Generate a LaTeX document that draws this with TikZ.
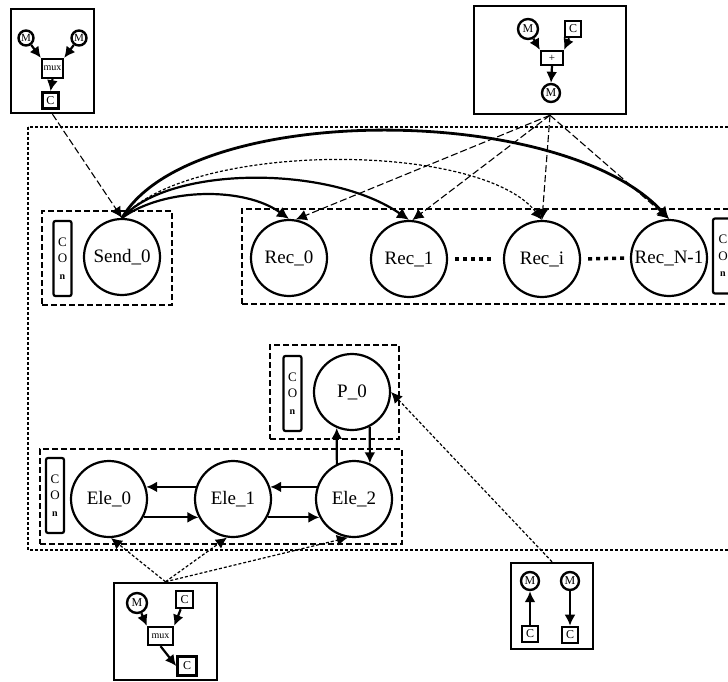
\documentclass[tikz,border=0pt]{standalone}
\usepackage{fontspec}
\setmainfont{Liberation Serif}
\usetikzlibrary{arrows.meta}
\tikzset{
  x=1pt,y=-1pt,
  big/.style={circle,draw,line width=2.2pt,minimum size=76pt,inner sep=0pt,font=\fontsize{19}{20}\selectfont},
  conbox/.style={draw,rounded corners=2pt,line width=2.2pt,minimum width=18pt,minimum height=75pt,inner sep=0pt,align=center,font=\fontsize{13}{16.5}\selectfont},
  group/.style={draw,line width=1.1pt,dash pattern=on 6pt off 3pt,inner sep=0pt},
  panel/.style={draw,line width=2.5pt,inner sep=0pt},
  sm/.style={circle,draw,line width=2.4pt,minimum size=18pt,inner sep=0pt,font=\fontsize{12}{12}\selectfont},
  sq/.style={rectangle,draw,line width=2.6pt,minimum size=16pt,inner sep=0pt,font=\fontsize{12}{12}\selectfont},
  opbox/.style={rectangle,draw,line width=2.3pt,inner sep=0pt,font=\fontsize{10}{10}\selectfont},
  flow/.style={line width=2.2pt,-{Latex[length=11pt,width=11pt]}},
  flowthick/.style={line width=2.8pt,-{Latex[length=12pt,width=13pt]}},
  flowmid/.style={line width=2.2pt,-{Latex[length=12pt,width=12pt]}},
  dashlink/.style={line width=1.1pt,dash pattern=on 7pt off 3pt,-{Latex[length=11pt,width=11pt]}},
  dotlink/.style={line width=1.2pt,dash pattern=on 3pt off 2pt,-{Latex[length=11pt,width=11pt]}},
  smallarrow/.style={line width=2.2pt,-{Latex[length=11pt,width=11pt]}},
  dots/.style={line width=3.5pt,dash pattern=on 4pt off 4pt}
}
\begin{document}
\begin{tikzpicture}
\useasboundingbox (0,0) rectangle (728,682);
\fill[white] (0,0) rectangle (728,682);
\clip (0,0) rectangle (728,682);

% outer dotted frame, open on the right
\draw[line width=1.2pt,dash pattern=on 3pt off 2pt] (28,127) rectangle (760,550);

% groups
\node[group,minimum width=130pt,minimum height=94pt] (gsend) at (107,258) {};
\node[group,minimum width=520pt,minimum height=95pt] (grec) at (502,256.5) {};
\node[group,minimum width=129pt,minimum height=94pt] (gp) at (334.5,392) {};
\node[group,minimum width=362pt,minimum height=95pt] (gele) at (221,496.5) {};

% CON bars
\node[conbox] (con1) at (62.5,258.5) {C\\O\\\textbf{\fontsize{10}{10}\selectfont n}};
\node[conbox,minimum width=20pt] (con2) at (723,256) {C\\O\\\textbf{\fontsize{10}{10}\selectfont n}};
\node[conbox] (con3) at (292.5,393.5) {C\\O\\\textbf{\fontsize{10}{10}\selectfont n}};
\node[conbox] (con4) at (55,495.5) {C\\O\\\textbf{\fontsize{10}{10}\selectfont n}};

% main nodes
\node[big] (Send_0) at (122,257) {Send\_0};
\node[big] (Rec_0) at (289,258) {Rec\_0};
\node[big] (Rec_1) at (409,259) {Rec\_1};
\node[big] (Rec_i) at (542,259) {Rec\_i};
\node[big] (Rec_N) at (669,258) {Rec\_N-1};
\node[big] (P_0) at (352,392) {P\_0};
\node[big] (Ele_0) at (109,499) {Ele\_0};
\node[big] (Ele_1) at (233,499) {Ele\_1};
\node[big] (Ele_2) at (354,499) {Ele\_2};

\draw[dots,shorten <=7pt,shorten >=9pt] (Rec_1.east) -- (Rec_i.west);
\draw[dots,shorten <=7pt,shorten >=5pt] (Rec_i.east) -- (Rec_N.west);

% panels
\node[panel,minimum width=83pt,minimum height=104pt] (box1) at (52.5,61) {};
\node[sm,minimum size=15pt,font=\fontsize{11}{11}\selectfont] (b1m1) at (26,38) {M};
\node[sm,minimum size=15pt,font=\fontsize{11}{11}\selectfont] (b1m2) at (79,38) {M};
\node[opbox,minimum width=21pt,minimum height=19pt] (b1mux) at (52.5,68.5) {mux};
\node[sq] (b1c) at (50.5,100.5) {C};
\draw[smallarrow] (b1m1) -- (b1mux.north west);
\draw[smallarrow] (b1m2) -- (b1mux.north east);
\draw[smallarrow] (b1mux.south) -- (b1c.north);

\node[panel,minimum width=152pt,minimum height=108pt] (box2) at (550,60) {};
\node[sm,minimum size=20pt] (b2m1) at (528,29) {M};
\node[sq] (b2c) at (573,29) {C};
\node[opbox,minimum width=22pt,minimum height=14pt,font=\fontsize{11}{11}\selectfont] (b2add) at (552,58) {+};
\node[sm] (b2m2) at (551,93) {M};
\draw[smallarrow] (b2m1) -- (b2add.north west);
\draw[smallarrow] (b2c) -- (b2add.north east);
\draw[smallarrow] (b2add.south) -- (b2m2.north);

\node[panel,minimum width=103pt,minimum height=97pt] (box3) at (165.5,631.5) {};
\node[sm,minimum size=20pt] (b3m) at (137,603) {M};
\node[sq,minimum size=17pt] (b3c1) at (184.5,599.5) {C};
\node[opbox,minimum width=25pt,minimum height=18pt] (b3mux) at (160.5,636) {mux};
\node[sq,minimum size=19pt] (b3c2) at (187,666) {C};
\draw[smallarrow] (b3m) -- (b3mux.north west);
\draw[smallarrow] (b3c1) -- (b3mux.north east);
\draw[smallarrow] (b3mux.south) -- (b3c2.west);

\node[panel,minimum width=82pt,minimum height=86pt] (box4) at (552,606) {};
\node[sm] (b4m1) at (530,581) {M};
\node[sm] (b4m2) at (570,581) {M};
\node[sq] (b4c1) at (530,634) {C};
\node[sq] (b4c2) at (570,635) {C};
\draw[smallarrow] (b4c1.north) -- (b4m1.south);
\draw[smallarrow] (b4m2.south) -- (b4c2.north);

% dashed control links
\draw[dashlink] (box1.south) -- (Send_0.north);
\draw[dashlink] (box2.south) -- (Rec_0.80);
\draw[dashlink] (box2.south) -- (Rec_1.85);
\draw[dashlink] (box2.south) -- (Rec_i.north);
\draw[dashlink] (box2.south) -- (Rec_N.north);
\draw[dotlink] (Send_0.north) .. controls (190,141) and (480,141) .. (Rec_i.north);
\draw[dotlink] (box3.north) -- (Ele_0.-87);
\draw[dotlink] (box3.north) -- (Ele_1.-99);
\draw[dotlink] (box3.north) -- (Ele_2.-99);
\draw[dotlink] (box4.north) -- (P_0.east);

% thick links from Send_0
\draw[flowmid] (Send_0.north) .. controls (165,187) and (245,187) .. (Rec_0.north);
\draw[flowmid] (Send_0.north) .. controls (170,165) and (330,165) .. (Rec_1.north);
\draw[flowthick] (Send_0.north) .. controls (190,102) and (560,102) .. (Rec_N.north);

% Element and processor links
\draw[flow] (Ele_1.162) -- (Ele_0.18);
\draw[flow] (Ele_0.-28) -- (Ele_1.-152);
\draw[flow] (Ele_2.162) -- (Ele_1.18);
\draw[flow] (Ele_1.-28) -- (Ele_2.-152);
\draw[flow] (Ele_2.116.6) -- (P_0.-113.2);
\draw[flow] (P_0.-63.4) -- (Ele_2.66.8);
\end{tikzpicture}
\end{document}
